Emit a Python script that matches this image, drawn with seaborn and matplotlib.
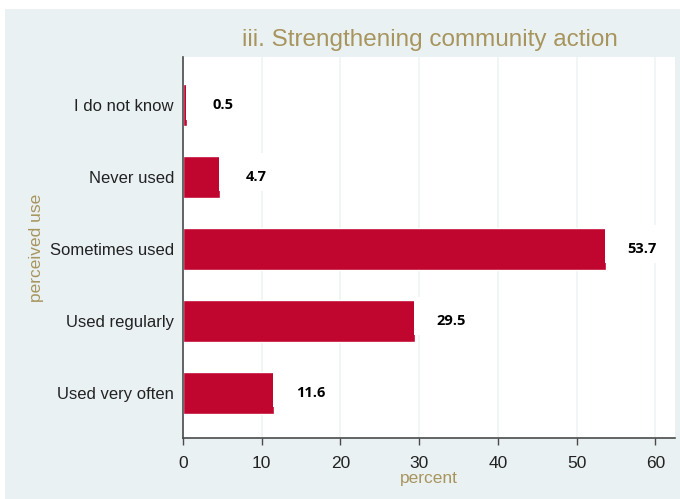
import numpy as np
import pandas as pd
import matplotlib
matplotlib.use('Agg')
import matplotlib.pyplot as plt
import seaborn as sns
from matplotlib.patches import Rectangle

categories = ['I do not know', 'Never used', 'Sometimes used', 'Used regularly', 'Used very often']
percent = [0.5, 4.7, 53.7, 29.5, 11.6]
x_ticks = [0, 10, 20, 30, 40, 50, 60]

bar_color = '#C0052F'
gold = '#A8955E'
panel_bg = '#EAF1F3'

df = pd.DataFrame({'perceived use': categories, 'percent': percent})

sns.set_style('white')
plt.rcParams['font.family'] = ['Liberation Sans', 'DejaVu Sans']

fig = plt.figure(figsize=(6.8, 4.99), dpi=100)
fig.patches.append(Rectangle((5 / 680, 0), 1, 1 - 9 / 499, transform=fig.transFigure,
                             facecolor=panel_bg, edgecolor='none', zorder=-10))
ax = fig.add_axes([183 / 680, 1 - 438 / 499, (675 - 183) / 680, (438 - 57) / 499])
ax.set_facecolor('white')

sns.barplot(data=df, x='percent', y='perceived use', orient='h', color=bar_color,
            saturation=1, width=0.58, ax=ax, zorder=2)

ax.set_xlim(0, 62.5)
ax.set_ylim(4.63, -0.67)
ax.set_xticks(x_ticks)
ax.xaxis.grid(True, color='#EDF3F4', linewidth=1.2, zorder=0)
ax.set_axisbelow(True)

# white label boxes (Stata-style), slightly overlapping the bar ends
for i, v in enumerate(percent):
    ax.add_patch(Rectangle((v - 0.15, i + 0.2), 7.3, -0.53, facecolor='white',
                           edgecolor='none', zorder=4))
    ax.text(v + 4.6, i, f'{v:.1f}', ha='center', va='center', fontsize=10.5,
            fontweight='bold', family='Open Sans', color='black', zorder=5)

for s in ['top', 'right']:
    ax.spines[s].set_visible(False)
for s in ['left', 'bottom']:
    ax.spines[s].set_color('#4a4a4a')
    ax.spines[s].set_linewidth(1.2)

ax.tick_params(axis='x', bottom=True, length=5, width=1, color='#4a4a4a',
               labelsize=12.5, labelcolor='#222222', pad=8)
ax.tick_params(axis='y', left=False, labelsize=12, labelcolor='#222222', pad=3)

ax.set_xlabel('percent', color=gold, fontsize=12.5, labelpad=0)
ax.set_ylabel('perceived use', color=gold, fontsize=12.5, labelpad=4)
fig.text(430 / 680, 1 - 40 / 499, 'iii. Strengthening community action', color=gold,
         fontsize=17.5, ha='center', va='center')

fig.savefig('out.png', dpi=100)
